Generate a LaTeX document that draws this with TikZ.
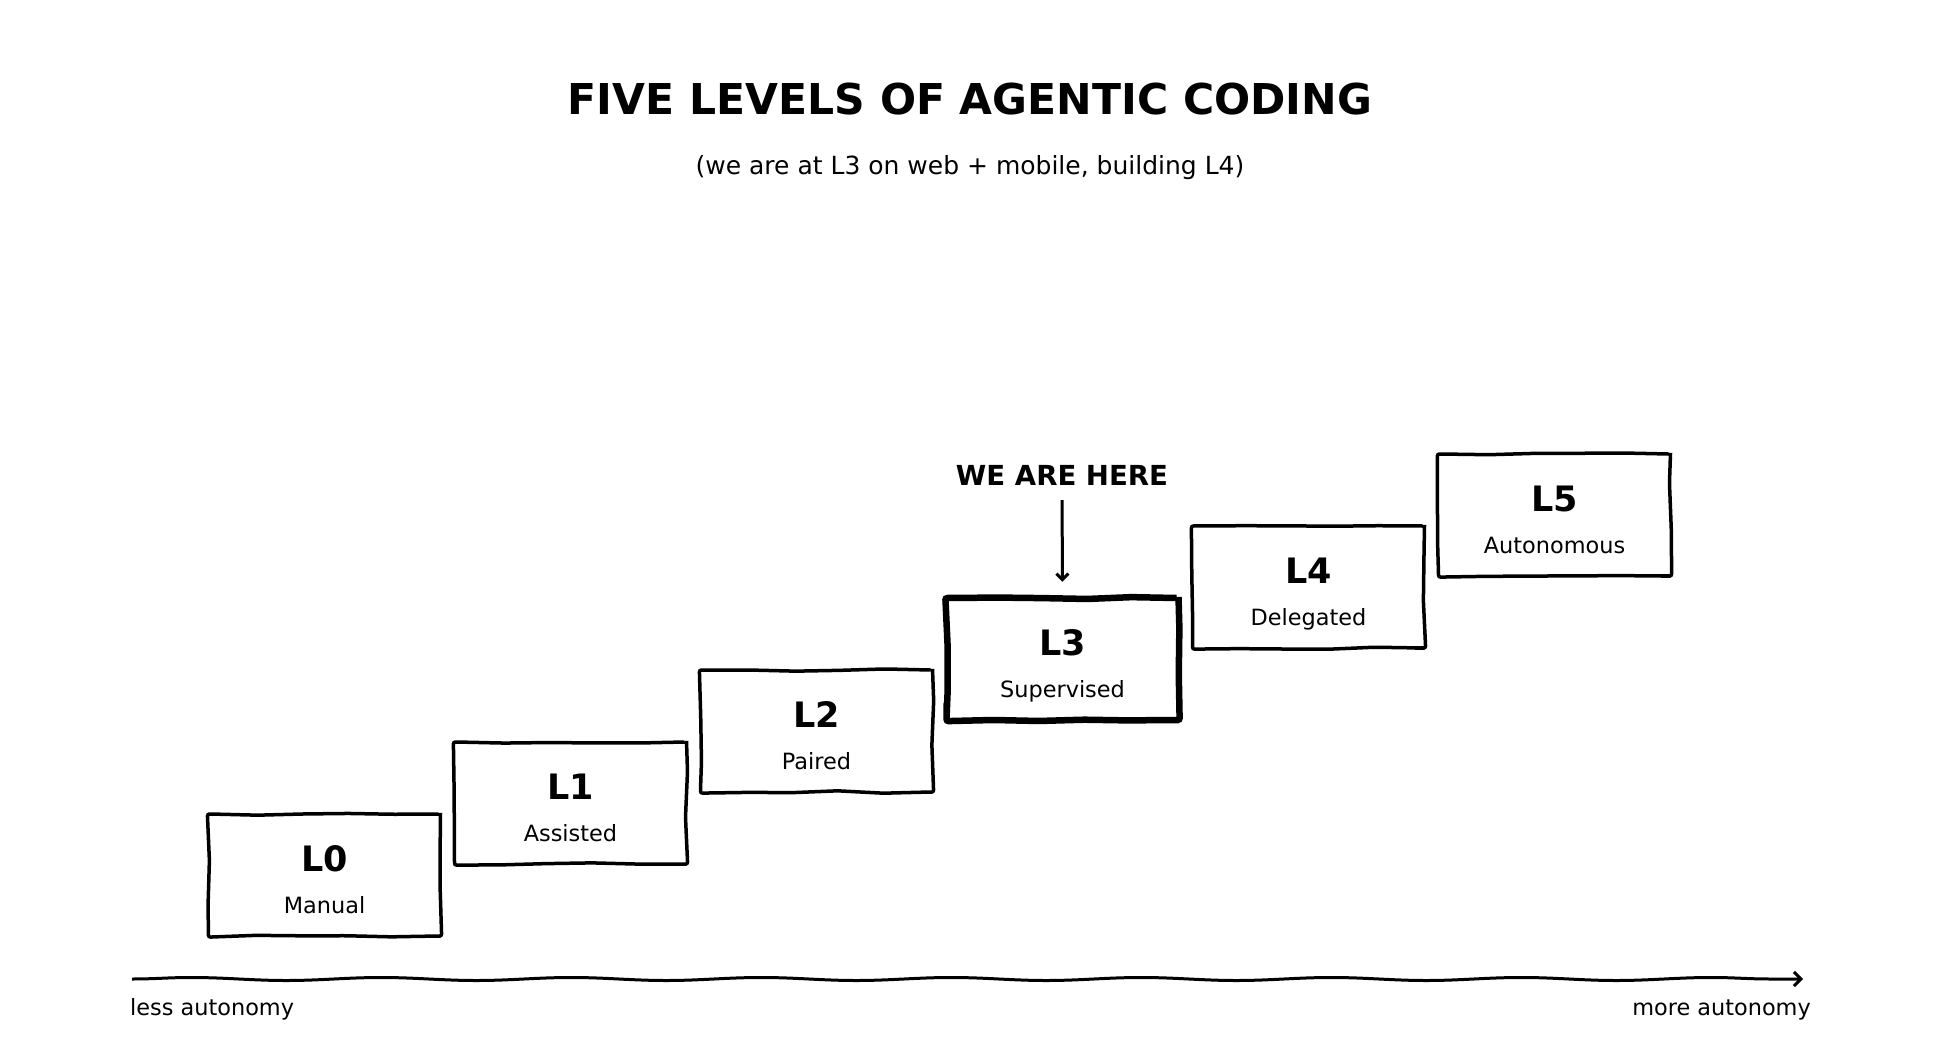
\documentclass[tikz,border=0pt]{standalone}
\usepackage{fontspec}
\setmainfont{DejaVu Sans}
\usetikzlibrary{arrows.meta,decorations.pathmorphing}

\tikzset{
  sketch/.style={decorate, decoration={random steps, segment length=45pt, amplitude=1.2pt}, rounded corners=2pt},
  levelbox/.style={draw, sketch, line width=3.5pt, minimum width=232pt, minimum height=122pt, inner sep=0pt},
  tag/.style={anchor=base, inner sep=0pt, font=\fontsize{35}{40}\selectfont\bfseries},
  lname/.style={anchor=base, inner sep=0pt, font=\fontsize{22.4}{26}\selectfont},
  pointer/.style={line width=3pt, -{Straight Barb[length=6pt, width=12pt, line width=3pt]}},
}

\begin{document}
\begin{tikzpicture}[x=1pt, y=-1pt]
  \pgfmathsetseed{7}
  \useasboundingbox (0,0) rectangle (1940,1040);

  % title
  \node[anchor=base, inner sep=0pt, font=\fontsize{42.5}{50}\selectfont\bfseries] (title) at (970,115)
    {FIVE LEVELS OF AGENTIC CODING};
  \node[anchor=base, inner sep=0pt, font=\fontsize{25}{30}\selectfont] (subtitle) at (970,175)
    {(we are at L3 on web + mobile, building L4)};

  % the staircase
  \foreach \i/\name/\lw in {0/Manual/3.5pt, 1/Assisted/3.5pt, 2/Paired/3.5pt,
                            3/Supervised/6.5pt, 4/Delegated/3.5pt, 5/Autonomous/3.5pt} {
    \node[levelbox, line width=\lw] (L\i) at (324.5+246*\i, 875-72*\i) {};
    \node[tag] (L\i tag) at (324.5+246*\i, 871-72*\i) {L\i};
    \node[lname] (L\i name) at (324.5+246*\i, 913-72*\i) {\name};
  }

  % marker
  \node[anchor=base, inner sep=0pt, font=\fontsize{27.6}{32}\selectfont\bfseries] (here) at (1062,485)
    {WE ARE HERE};
  \draw[pointer, shorten <=15pt, shorten >=13pt] (here.south) -- (L3.north);

  % axis
  \coordinate (axleft) at (132,979);
  \coordinate (axright) at (1803,979);
  \draw[line width=3pt, -{Straight Barb[length=7pt, width=14pt, line width=3pt]},
        decorate, decoration={snake, amplitude=1.5pt, segment length=190pt, post length=20pt}]
    (axleft) -- (axright);
  \node[anchor=base west, inner sep=0pt, font=\fontsize{22.4}{26}\selectfont] (less) at (130,1015) {less autonomy};
  \node[anchor=base east, inner sep=0pt, font=\fontsize{22.4}{26}\selectfont] (more) at (1811,1015) {more autonomy};
\end{tikzpicture}
\end{document}
